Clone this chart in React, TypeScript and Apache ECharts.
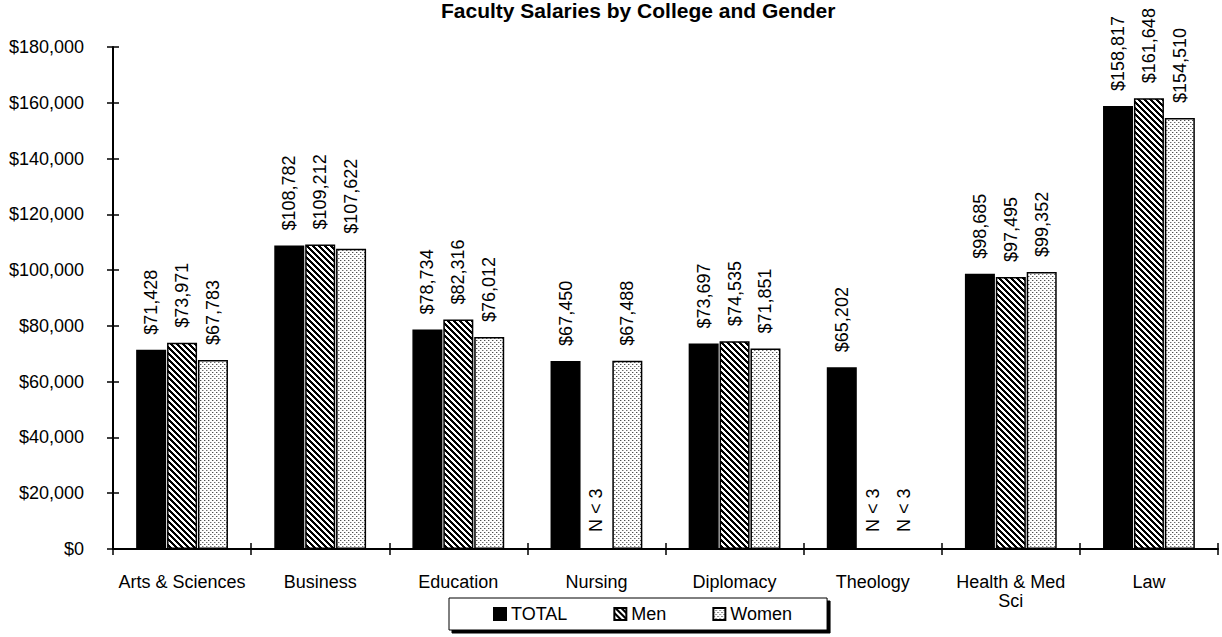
import React, { useEffect, useRef } from "react";
import * as echarts from "echarts";

const categories = [
  "Arts & Sciences",
  "Business",
  "Education",
  "Nursing",
  "Diplomacy",
  "Theology",
  "Health & Med Sci",
  "Law",
];
const totalValues: (number | null)[] = [71428, 108782, 78734, 67450, 73697, 65202, 98685, 158817];
const menValues: (number | null)[] = [73971, 109212, 82316, null, 74535, null, 97495, 161648];
const womenValues: (number | null)[] = [67783, 107622, 76012, 67488, 71851, null, 99352, 154510];
const seriesNames = ["TOTAL", "Men", "Women"];
const missingLabel = "N < 3";
const yMin = 0;
const yMax = 180000;
const yInterval = 20000;

const FONT = "'Liberation Sans', Arial, sans-serif";

function makeTile(w: number, h: number, fn: (x: number, y: number) => [number, number, number]) {
  const c = document.createElement("canvas");
  c.width = w;
  c.height = h;
  const ctx = c.getContext("2d")!;
  const img = ctx.createImageData(w, h);
  for (let y = 0; y < h; y++) {
    for (let x = 0; x < w; x++) {
      const [r, g, b] = fn(x, y);
      const i = (y * w + x) * 4;
      img.data[i] = r;
      img.data[i + 1] = g;
      img.data[i + 2] = b;
      img.data[i + 3] = 255;
    }
  }
  ctx.putImageData(img, 0, 0);
  return c;
}

const money = (v: number) => "$" + Math.round(v).toLocaleString("en-US");

export default function App() {
  const ref = useRef<HTMLDivElement>(null);
  useEffect(() => {
    document.body.style.margin = "0";
    if (!ref.current) return;
    const chart = echarts.init(ref.current, undefined, { renderer: "svg" });

    const stripes = makeTile(6, 6, (x, y) => {
      const k = (((x - y) % 6) + 6) % 6;
      return k < 3 ? [0, 0, 0] : [255, 255, 255];
    });
    const dots = makeTile(4, 4, (x, y) => {
      if (x === 0 && y === 0) return [80, 80, 80];
      if (x === 2 && y === 2) return [110, 110, 110];
      if ((x === 1 && y === 0) || (x === 3 && y === 2)) return [190, 190, 190];
      return [255, 255, 255];
    });

    const fills: any[] = [
      "#000000",
      { image: stripes, repeat: "repeat" },
      { image: dots, repeat: "repeat" },
    ];
    const valueSets = [totalValues, menValues, womenValues];

    const buildData = (vals: (number | null)[]) =>
      vals.map((v) =>
        v == null
          ? {
              value: 0,
              itemStyle: { color: "transparent", borderWidth: 0 },
              label: { formatter: missingLabel, distance: 17 },
            }
          : v
      );

    const series = seriesNames.map((name, i) => ({
      name,
      type: "bar",
      xAxisIndex: 0,
      yAxisIndex: 0,
      barWidth: 30,
      barGap: "3%",
      data: buildData(valueSets[i]),
      itemStyle: { color: fills[i], borderColor: "#000", borderWidth: 1.5 },
      label: {
        show: true,
        position: "top",
        rotate: 90,
        align: "left",
        verticalAlign: "middle",
        distance: 15,
        fontSize: 18,
        fontFamily: FONT,
        color: "#000",
        formatter: (p: any) => money(p.value),
      },
    }));

    chart.setOption({
      animation: false,
      backgroundColor: "#fff",
      title: {
        text: "Faculty Salaries by College and Gender",
        left: 441,
        top: 0,
        padding: 0,
        textStyle: { fontSize: 21, fontWeight: "bold", fontFamily: FONT, color: "#000" },
      },
      legend: {
        data: seriesNames,
        left: 449,
        top: 598,
        orient: "horizontal",
        padding: [7, 35, 7, 44],
        itemGap: 46,
        itemWidth: 12,
        itemHeight: 12,
        icon: "rect",
        borderColor: "#000",
        borderWidth: 1,
        backgroundColor: "#fff",
        shadowColor: "#000",
        shadowBlur: 0,
        shadowOffsetX: 3,
        shadowOffsetY: 3,
        textStyle: { fontSize: 18, fontFamily: FONT, color: "#000" },
      },
      grid: { left: 113, right: 4, top: 47, bottom: 88, containLabel: false },
      xAxis: [
        {
          type: "category",
          data: categories,
          position: "bottom",
          axisLine: { show: true, lineStyle: { color: "#000", width: 2 } },
          axisTick: { show: true, length: 6, lineStyle: { color: "#000", width: 1.5 } },
          axisLabel: {
            margin: 23,
            fontSize: 18,
            fontFamily: FONT,
            color: "#000",
            lineHeight: 19,
            interval: 0,
            formatter: (v: string) => (v === "Health & Med Sci" ? "Health & Med\nSci" : v),
          },
          splitLine: { show: false },
        },
        {
          type: "category",
          data: categories,
          position: "bottom",
          axisLine: { show: false },
          axisTick: { show: true, inside: true, length: 6, lineStyle: { color: "#000", width: 1.5 } },
          axisLabel: { show: false },
          splitLine: { show: false },
        },
      ],
      yAxis: [
        {
          type: "value",
          min: yMin,
          max: yMax,
          interval: yInterval,
          position: "left",
          axisLine: { show: true, lineStyle: { color: "#000", width: 2 } },
          axisTick: { show: true, length: 6, lineStyle: { color: "#000", width: 1.5 } },
          axisLabel: {
            margin: 29,
            fontSize: 18,
            fontFamily: FONT,
            color: "#000",
            formatter: (v: number) => money(v),
          },
          splitLine: { show: false },
        },
        {
          type: "value",
          min: yMin,
          max: yMax,
          interval: yInterval,
          position: "left",
          axisLine: { show: false },
          axisTick: { show: true, inside: true, length: 6, lineStyle: { color: "#000", width: 1.5 } },
          axisLabel: { show: false },
          splitLine: { show: false },
        },
      ],
      series,
    });
    return () => chart.dispose();
  }, []);
  return <div ref={ref} style={{ width: 1222, height: 637 }} />;
}
